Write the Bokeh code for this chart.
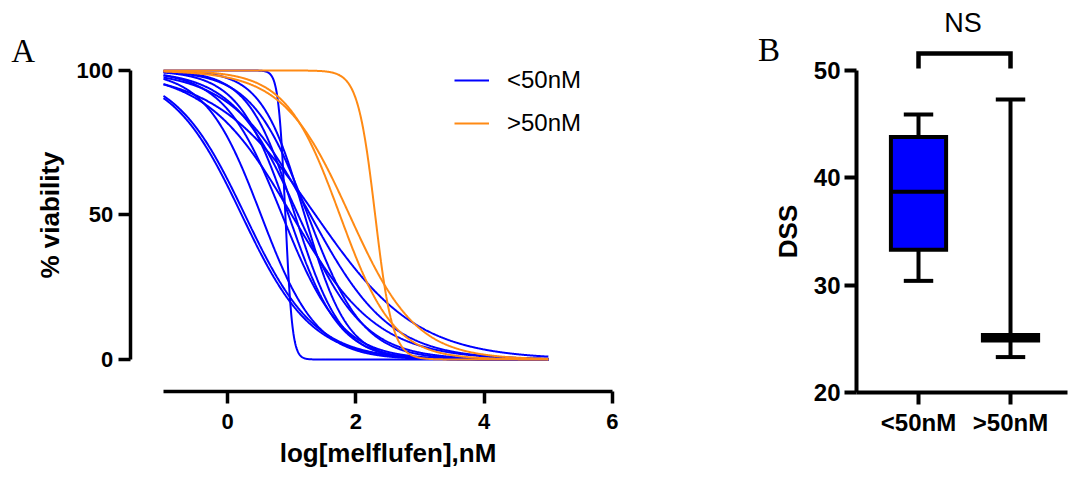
import numpy as np
from bokeh.plotting import figure
from bokeh.models import FixedTicker, Label, Legend, LegendItem, Range1d
from bokeh.layouts import row
from bokeh.embed import file_html
from bokeh.resources import INLINE

# ---------------- data ----------------
# Panel A: fitted dose-response curves (4PL, top=100, bottom=0), parameters
low_logic50 = [0.22, 0.27, 0.52, 0.90, 0.85, 0.95, 1.05, 1.10, 1.20, 1.25, 1.29, 1.37, 1.00]
low_hill = [0.80, 0.80, 1.00, 8.00, 0.95, 1.10, 1.20, 0.85, 1.30, 1.00, 0.70, 0.55, 0.65]
high_logic50 = [1.75, 1.90, 2.30]
high_hill = [1.04, 0.84, 3.20]
dose_start, dose_end = -1.0, 5.0
legend_labels = ["<50nM", ">50nM"]
a_xticks = [0, 2, 4, 6]
a_yticks = [0, 50, 100]

# Panel B: DSS box plot
groups = ["<50nM", ">50nM"]
dss_min = [30.4, 23.3]
dss_q1 = [33.3, 24.85]
dss_median = [38.7, 25.1]
dss_q3 = [43.8, 25.35]
dss_max = [45.9, 47.3]
box_colors = ["#0000ff", "#000000"]
b_yticks = [20, 30, 40, 50]
sig_label = "NS"

SANS = "Liberation Sans"
SERIF = "Liberation Serif"
BLUE = "#0000ff"
ORANGE = "#ff8a14"


def curve(logic50, hill, x):
    return 100.0 / (1.0 + 10 ** ((x - logic50) * hill))


xgrid = np.linspace(dose_start, dose_end, 801)


def style_axis(ax, lw, lab_size, title_size):
    ax.axis_line_width = lw
    ax.axis_line_color = "black"
    ax.major_tick_line_width = lw
    ax.major_tick_line_color = "black"
    ax.major_tick_out = 12
    ax.major_tick_in = 0
    ax.minor_tick_line_color = None
    ax.major_label_text_font = SANS
    ax.major_label_text_font_style = "bold"
    ax.major_label_text_font_size = lab_size
    ax.major_label_text_color = "black"
    ax.axis_label_text_font = SANS
    ax.axis_label_text_font_style = "bold"
    ax.axis_label_text_font_size = title_size
    ax.axis_label_text_color = "black"


def bare(p):
    p.outline_line_color = None
    p.grid.grid_line_color = None
    p.min_border_left = 0
    p.min_border_right = 0
    p.min_border_top = 0
    p.min_border_bottom = 0


# ---------------- panel A ----------------
pa = figure(width=720, height=477, x_range=Range1d(-3.5413, 7.684), y_range=Range1d(-40.83, 124.22),
            output_backend="svg", toolbar_location=None)
bare(pa)

r_low = pa.multi_line(xs=[xgrid for _ in low_logic50],
                      ys=[curve(c, h, xgrid) for c, h in zip(low_logic50, low_hill)],
                      line_color=BLUE, line_width=2)
r_high = pa.multi_line(xs=[xgrid for _ in high_logic50],
                       ys=[curve(c, h, xgrid) for c, h in zip(high_logic50, high_hill)],
                       line_color=ORANGE, line_width=2)

xa = pa.xaxis[0]
ya = pa.yaxis[0]
style_axis(xa, 3.5, "22px", "26px")
style_axis(ya, 3.5, "22px", "26px")
xa.fixed_location = -11.0
xa.ticker = FixedTicker(ticks=a_xticks)
xa.bounds = (-1, 6)
xa.axis_label = "log[melflufen],nM"
xa.major_label_standoff = 11
xa.axis_label_standoff = 5
ya.fixed_location = -1.519
ya.ticker = FixedTicker(ticks=a_yticks)
ya.bounds = (0, 100)
ya.axis_label = "% viability"
ya.major_label_standoff = 5
ya.axis_label_standoff = 9

legend = Legend(items=[LegendItem(label=legend_labels[0], renderers=[r_low]),
                       LegendItem(label=legend_labels[1], renderers=[r_high])],
                location=(454, 340), padding=0, margin=0, spacing=15,
                glyph_width=35, glyph_height=28, label_height=28, label_standoff=18,
                label_text_font=SANS, label_text_font_size="24px", label_text_color="black",
                border_line_color=None, background_fill_alpha=0)
pa.add_layout(legend)

pa.add_layout(Label(x=-3.375, y=106.6, text="A", text_font=SERIF, text_font_size="33px",
                    text_baseline="alphabetic", text_align="left", text_color="black"))

# ---------------- panel B ----------------
pb = figure(width=350, height=477, x_range=Range1d(-1.1522, 2.652), y_range=Range1d(12.08, 56.522),
            output_backend="svg", toolbar_location=None)
bare(pb)

pos = [i + 1 for i in range(len(groups))]
box_w = 0.6
cap_w = 0.32
pb.segment(x0=pos, y0=dss_q3, x1=pos, y1=dss_max, line_color="black", line_width=4)
pb.segment(x0=pos, y0=dss_min, x1=pos, y1=dss_q1, line_color="black", line_width=4)
pb.segment(x0=[p - cap_w / 2 for p in pos], y0=dss_max, x1=[p + cap_w / 2 for p in pos], y1=dss_max,
           line_color="black", line_width=4)
pb.segment(x0=[p - cap_w / 2 for p in pos], y0=dss_min, x1=[p + cap_w / 2 for p in pos], y1=dss_min,
           line_color="black", line_width=4)
pb.vbar(x=pos, width=box_w, bottom=dss_q1, top=dss_q3, fill_color=box_colors,
        line_color="black", line_width=4, line_join="miter")
pb.segment(x0=[p - box_w / 2 for p in pos], y0=dss_median, x1=[p + box_w / 2 for p in pos], y1=dss_median,
           line_color="black", line_width=4)

# significance bracket
br_top = 51.58
br_bot = 50.19
pb.line(x=[pos[0], pos[0], pos[1], pos[1]], y=[br_bot, br_top, br_top, br_bot],
        line_color="black", line_width=4.5, line_join="miter")
pb.add_layout(Label(x=(pos[0] + pos[1]) / 2 - 0.016, y=54.45, text=sig_label, text_font=SANS,
                    text_font_size="27px", text_align="center", text_baseline="alphabetic",
                    text_color="black"))

xb = pb.xaxis[0]
yb = pb.yaxis[0]
style_axis(xb, 4, "24px", "26px")
style_axis(yb, 4, "24px", "26px")
xb.fixed_location = 20
xb.ticker = FixedTicker(ticks=pos)
xb.major_label_overrides = {p: g for p, g in zip(pos, groups)}
xb.bounds = (0.326, 2.62)
xb.major_label_standoff = 5
yb.fixed_location = 0.326
yb.ticker = FixedTicker(ticks=b_yticks)
yb.bounds = (20, 50)
yb.axis_label = "DSS"
yb.major_label_standoff = 4
yb.axis_label_standoff = 8

pb.add_layout(Label(x=-0.745, y=51.95, text="B", text_font=SERIF, text_font_size="33px",
                    text_baseline="alphabetic", text_align="left", text_color="black"))

layout = row(pa, pb)
open("out.html", "w").write(file_html(layout, INLINE))
